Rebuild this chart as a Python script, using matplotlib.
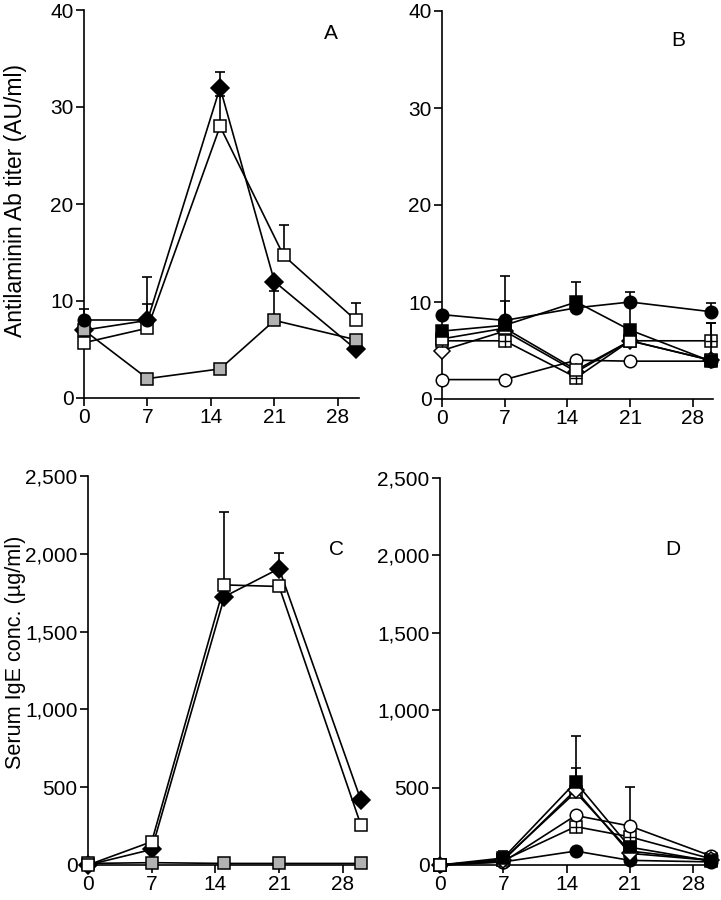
import numpy as np
import matplotlib
matplotlib.use("Agg")
import matplotlib.pyplot as plt

plt.rcParams["font.family"] = ["Liberation Sans", "DejaVu Sans"]

# days of sampling
days = [0, 7, 15, 21, 30]
days_a_open = [0, 7, 15, 22, 30]
x_ticks = [0, 7, 14, 21, 28]

# --- panel A : antilaminin Ab titer (AU/ml)
a_diamond = [7, 8, 32, 12, 5]
a_diamond_err = [0, 4.5, 1.6, 0, 0]
a_open_sq = [5.7, 7.2, 28, 14.7, 8]
a_open_sq_err = [0, 2.5, 3.1, 3.1, 1.8]
a_gray_sq = [7, 2, 3, 8, 6]
a_gray_sq_err = [0, 0, 0, 3, 0]
a_circle_days = [0, 7]
a_circle = [8, 8]
a_circle_err = [1.2, 0]

# --- panel B
b_circle = [8.7, 8.1, 9.4, 10, 9]
b_circle_err = [0, 4.6, 0, 1.0, 0.9]
b_black_sq = [7, 7.6, 10, 7.1, 3.9]
b_black_sq_err = [0, 0, 2.1, 3.0, 3.9]
b_diamond = [5, 7, 2.8, 6, 4]
b_open_sq = [6.2, 7.3, 3, 6, 4]
b_open_sq_err = [0, 2.8, 0, 0, 0]
b_cross_sq = [6, 6, 2.2, 6, 6]
b_cross_sq_err = [0, 0, 0, 0, 1.8]
b_open_circle = [2, 2, 4, 3.9, 3.9]

# --- panel C : serum IgE (ug/ml)
c_diamond = [0, 100, 1725, 1905, 415]
c_diamond_err = [0, 0, 0, 100, 0]
c_open_sq = [0, 150, 1800, 1790, 255]
c_open_sq_err = [0, 0, 470, 0, 0]
c_gray_sq = [10, 15, 10, 10, 10]

# --- panel D
d_black_sq = [0, 45, 535, 115, 25]
d_black_sq_err = [0, 45, 300, 0, 0]
d_diamond = [0, 30, 485, 75, 30]
d_diamond_err = [0, 0, 140, 0, 0]
d_open_sq = [0, 35, 470, 90, 30]
d_open_circle = [0, 20, 320, 252, 58]
d_open_circle_err = [0, 0, 0, 255, 0]
d_cross_sq = [0, 30, 248, 182, 40]
d_circle = [0, 20, 90, 30, 20]

y_ticks_ab = [0, 10, 20, 30, 40]
y_ticks_cd = [0, 500, 1000, 1500, 2000, 2500]
y_labels_cd = ["0", "500", "1,000", "1,500", "2,000", "2,500"]

GRAY = "#b2b2b2"
MS = 9
MS_D = 9.5
LW = 1.2
FS = 15

W, H = 721, 900
fig = plt.figure(figsize=(W / 100, H / 100), dpi=100)


def px_axes(left, bottom, per_day, top, xmax=30.3):
    width = per_day * xmax
    return fig.add_axes([left / W, (H - bottom) / H, width / W, (bottom - top) / H])


def series(ax, x, y, marker, face, err=None, ms=MS, z=3):
    ax.plot(x, y, color="k", lw=LW, marker=marker, ms=ms, mfc=face, mec="k",
            mew=1.1, zorder=z, clip_on=False)
    if err is not None:
        ex = [xi for xi, e in zip(x, err) if e > 0]
        ey = [yi for yi, e in zip(y, err) if e > 0]
        ee = [e for e in err if e > 0]
        if ex:
            ax.errorbar(ex, ey, yerr=[np.zeros(len(ee)), ee], fmt="none",
                        ecolor="k", elinewidth=LW, capsize=3.5, capthick=LW,
                        zorder=z - 0.5, clip_on=False)


def cross(ax, x, y, err=None, z=3):
    series(ax, x, y, "s", "white", err, z=z)
    ax.plot(x, y, ls="none", marker="+", ms=MS, mec="k", mew=1.0,
            zorder=z + 0.1, clip_on=False)


def style(ax, ymax, yticks, ylabels=None):
    ax.set_xlim(0, 30.3)
    ax.set_ylim(0, ymax)
    for s in ["top", "right"]:
        ax.spines[s].set_visible(False)
    for s in ["left", "bottom"]:
        ax.spines[s].set_linewidth(1.2)
    ax.set_xticks(x_ticks)
    ax.set_yticks(yticks)
    if ylabels is not None:
        ax.set_yticklabels(ylabels)
    ax.tick_params(direction="out", length=6, width=1.2, labelsize=FS, pad=1.5)
    ax.patch.set_alpha(0)


# panel A
ax_a = px_axes(84, 398, 9.07, 10)
series(ax_a, days, a_diamond, "D", "k", a_diamond_err, ms=MS_D, z=2.8)
series(ax_a, days, a_gray_sq, "s", GRAY, a_gray_sq_err, z=3)
series(ax_a, days_a_open, a_open_sq, "s", "white", a_open_sq_err, z=3.2)
series(ax_a, a_circle_days, a_circle, "o", "k", a_circle_err, z=4)
style(ax_a, 40, y_ticks_ab)
ax_a.set_ylabel("Antilaminin Ab titer (AU/ml)", fontsize=16.5)
ax_a.yaxis.set_label_coords(-0.207, 0.51)
ax_a.text(0.90, 0.94, "A", transform=ax_a.transAxes, fontsize=FS, ha="center", va="center")

# panel B
ax_b = px_axes(442, 399, 8.96, 11)
series(ax_b, days, b_open_circle, "o", "white")
series(ax_b, days, b_diamond, "D", "white", ms=8)
cross(ax_b, days, b_cross_sq, b_cross_sq_err)
series(ax_b, days, b_open_sq, "s", "white", b_open_sq_err, z=3.5)
series(ax_b, days, b_black_sq, "s", "k", b_black_sq_err, z=3.6)
series(ax_b, days, b_circle, "o", "k", b_circle_err, z=3.7)
style(ax_b, 40, y_ticks_ab)
ax_b.text(0.87, 0.925, "B", transform=ax_b.transAxes, fontsize=FS, ha="center", va="center")

# panel C
ax_c = px_axes(88, 865, 9.1, 476)
series(ax_c, days, c_diamond, "D", "k", c_diamond_err, ms=MS_D, z=2.8)
series(ax_c, days, c_gray_sq, "s", GRAY, z=3)
series(ax_c, days, c_open_sq, "s", "white", c_open_sq_err, z=3.5)
style(ax_c, 2500, y_ticks_cd, y_labels_cd)
ax_c.set_ylabel("Serum IgE conc. (\u00b5g/ml)", fontsize=15.6)
ax_c.yaxis.set_label_coords(-0.224, 0.548)
ax_c.text(0.90, 0.81, "C", transform=ax_c.transAxes, fontsize=FS, ha="center", va="center")

# panel D
ax_d = px_axes(440, 865, 9.04, 478)
series(ax_d, days, d_circle, "o", "k")
cross(ax_d, days, d_cross_sq)
series(ax_d, days, d_open_circle, "o", "white", d_open_circle_err, z=3.2)
series(ax_d, days, d_open_sq, "s", "white", z=3.3)
series(ax_d, days, d_diamond, "D", "white", d_diamond_err, ms=8, z=3.4)
series(ax_d, days, d_black_sq, "s", "k", d_black_sq_err, z=3.5)
ax_d.plot([0], [0], ls="none", marker="s", ms=MS, mfc="white", mec="k", mew=1.1,
          zorder=5, clip_on=False)
style(ax_d, 2500, y_ticks_cd, y_labels_cd)
ax_d.text(0.85, 0.815, "D", transform=ax_d.transAxes, fontsize=FS, ha="center", va="center")

fig.savefig("out.png", dpi=100)
